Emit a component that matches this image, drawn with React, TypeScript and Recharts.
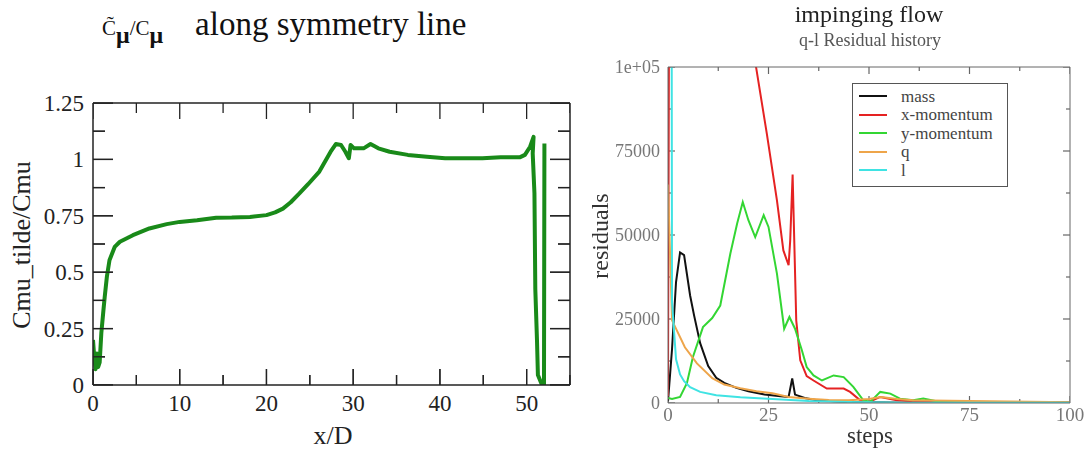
import React from 'react';
import { LineChart, Line, XAxis, YAxis, Legend } from 'recharts';

// ---- Cmu_tilde/Cmu along the symmetry line ----
const xOverD = [
  0, 0.15, 0.3, 0.45, 0.6, 0.77, 0.96, 1.2, 1.35, 1.6,
  1.9, 2.5, 3.1, 4.6, 6.5, 8.5, 10, 12, 14.2, 16,
  18.1, 20, 21, 21.9, 22.8, 23.8, 24.8, 26.1, 27.4, 28.0,
  28.6, 29.1, 29.5, 29.7, 30.1, 31.2, 32.0, 32.9, 34.2, 36.3,
  38.5, 40.6, 44.9, 47.0, 49.2, 49.8, 50.4, 50.8, 50.7, 50.9,
  51.0, 51.2, 51.3, 51.7, 52.0, 52.05,
];
const cmuRatio = [
  0.2, 0.12, 0.07, 0.14, 0.08, 0.1, 0.23, 0.33, 0.39, 0.48,
  0.553, 0.612, 0.635, 0.664, 0.694, 0.713, 0.723, 0.73, 0.741, 0.742,
  0.745, 0.753, 0.765, 0.782, 0.81, 0.849, 0.89, 0.946, 1.034, 1.068,
  1.064, 1.034, 1.005, 1.064, 1.049, 1.049, 1.068, 1.049, 1.034, 1.02,
  1.012, 1.005, 1.005, 1.009, 1.009, 1.02, 1.056, 1.1, 1.027, 0.85,
  0.425, 0.19, 0.044, 0.007, 0, 1.07,
];
const cmuXTicks = [0, 5, 10, 15, 20, 25, 30, 35, 40, 45, 50, 55];
const cmuYTicks = [0, 0.125, 0.25, 0.375, 0.5, 0.625, 0.75, 0.875, 1, 1.125, 1.25];

// ---- q-l residual history ----
const massSteps = [0, 1, 2, 3, 4, 5.5, 6.5, 8, 10, 12, 14, 17, 20, 24, 28, 30, 30.9, 31.6, 34, 37, 45, 60, 100];
const massRes = [500, 16000, 36000, 44800, 44000, 32000, 26000, 17800, 11000, 7500, 6000, 4500, 3500, 2500, 2000, 1800, 7300, 2500, 1500, 800, 300, 100, 50];

const xMomSteps = [0, 1, 10, 20, 21.9, 24.6, 27.1, 28.7, 30, 30.4, 31, 31.2, 31.9, 32.9, 34.5, 36.2, 39.5, 43.7, 45.3, 47.8, 50, 52.8, 56.9, 60, 70, 80, 90, 100];
const xMomRes = [2000, 450000, 300000, 130000, 100000, 80000, 60300, 45400, 41000, 48400, 68000, 58300, 24600, 12700, 8000, 6700, 4300, 4300, 3300, 800, 300, 1800, 800, 500, 400, 300, 250, 200];

const yMomSteps = [0, 1, 3, 4.7, 6.2, 8.7, 11, 13, 15.5, 17.2, 18.6, 20, 21.7, 23.8, 25, 27.1, 28.9, 30.2, 31.6, 33.3, 34.5, 36.2, 38.3, 41.2, 43.7, 46.1, 48.6, 50.3, 52.8, 55.3, 57.7, 61, 63.5, 67.7, 80, 100];
const yMomRes = [1500, 1200, 1800, 5900, 13700, 22600, 25300, 29000, 44400, 53400, 59800, 54400, 49400, 55900, 52400, 38500, 22100, 25600, 22100, 15700, 10700, 8200, 6700, 8200, 7700, 4800, 800, 300, 3300, 2800, 1300, 800, 1300, 300, 150, 100];

const qSteps = [0, 1, 4.2, 7.2, 11, 14, 18, 22, 26, 30, 35, 40, 45, 50, 53, 57, 61, 70, 80, 90, 100];
const qRes = [65000, 24600, 16600, 11800, 7400, 5500, 4400, 3500, 2900, 1800, 1300, 900, 800, 1200, 1800, 1200, 800, 700, 500, 350, 250];

const lSteps = [0, 1, 2, 3, 4, 5.5, 8, 12, 18, 26, 35, 45, 60, 100];
const lRes = [1000000, 30000, 13000, 8500, 6500, 4700, 3300, 2300, 1700, 1200, 600, 300, 100, 50];

const resXTicks = [0, 12.5, 25, 37.5, 50, 62.5, 75, 87.5, 100];
const resYTicks = [0, 12500, 25000, 37500, 50000, 62500, 75000, 87500, 100000];

const residualSeries = [
  { name: 'mass', color: '#111111', steps: massSteps, values: massRes },
  { name: 'x-momentum', color: '#e52222', steps: xMomSteps, values: xMomRes },
  { name: 'y-momentum', color: '#33d633', steps: yMomSteps, values: yMomRes },
  { name: 'q', color: '#eea54a', steps: qSteps, values: qRes },
  { name: 'l', color: '#3fe3e3', steps: lSteps, values: lRes },
];
const seriesOrder = residualSeries.map((s) => s.name);

const SERIF = '"Liberation Serif", "Times New Roman", serif';

type Pt = { x: number; y: number };
type Side = 'left' | 'bottom' | 'top' | 'right';

// Inward tick marks on all four sides (xmgrace style), as two-point segments.
// Lengths are given in pixels and converted to data units with the plot's px-per-unit.
function frameTicks(
  xTicks: number[], yTicks: number[],
  xDom: [number, number], yDom: [number, number],
  pxPerX: number, pxPerY: number,
  xMajor: (v: number) => boolean, yMajor: (v: number) => boolean,
  xLen: [number, number], yLen: [number, number],
): Pt[][] {
  const segs: Pt[][] = [];
  yTicks.forEach((v) => {
    const dx = (yMajor(v) ? yLen[0] : yLen[1]) / pxPerX;
    segs.push([{ x: xDom[0], y: v }, { x: xDom[0] + dx, y: v }]);
    segs.push([{ x: xDom[1], y: v }, { x: xDom[1] - dx, y: v }]);
  });
  xTicks.forEach((v) => {
    const dy = (xMajor(v) ? xLen[0] : xLen[1]) / pxPerY;
    segs.push([{ x: v, y: yDom[0] }, { x: v, y: yDom[0] + dy }]);
    segs.push([{ x: v, y: yDom[1] }, { x: v, y: yDom[1] - dy }]);
  });
  return segs;
}

// Tick renderer. With tickSize = tickMargin = -L the built-in tick line points inward and
// the (x, y) handed to us sits 2L inside the axis, so `back` moves back onto the axis line.
// Majors get an extra stretch beyond the built-in line, plus their label.
const axisTick = (
  side: Side, isMajor: (v: number) => boolean, back: number, extra: number, stroke: string,
  fmt?: (v: number) => string, fs = 16, fill = '#222', gap = 6,
) => (props: any) => {
  const x = Number(props.x);
  const y = Number(props.y);
  const v = Number(props.payload.value);
  const major = isMajor(v);
  const L = back / 2;
  let d = '';
  let text: React.ReactNode = null;
  if (side === 'left') {
    const ax = x - back;
    d = `M${ax + L},${y}H${ax + L + extra}`;
    if (major && fmt)
      text = <text x={ax - gap} y={y} dy="0.35em" textAnchor="end" fontSize={fs} fill={fill} fontFamily={SERIF}>{fmt(v)}</text>;
  } else if (side === 'right') {
    const ax = x + back;
    d = `M${ax - L},${y}H${ax - L - extra}`;
  } else if (side === 'bottom') {
    const ay = y + back;
    d = `M${x},${ay - L}V${ay - L - extra}`;
    if (major && fmt)
      text = <text x={x} y={ay + gap} dy="0.72em" textAnchor="middle" fontSize={fs} fill={fill} fontFamily={SERIF}>{fmt(v)}</text>;
  } else {
    const ay = y - back;
    d = `M${x},${ay + L}V${ay + L + extra}`;
  }
  return (
    <g>
      {major && extra > 0 ? <path d={d} stroke={stroke} strokeWidth={1.3} fill="none" /> : null}
      {text}
    </g>
  );
};

// label-only tick; tickSize/tickMargin are 0 so x,y sit on the axis line
const labelTick = (side: 'left' | 'bottom', isMajor: (v: number) => boolean, fmt: (v: number) => string, fs: number, fill: string, gap: number) =>
  (props: any) => {
    const x = Number(props.x);
    const y = Number(props.y);
    const v = Number(props.payload.value);
    if (!isMajor(v)) return <g />;
    return side === 'left'
      ? <text x={x - gap} y={y} dy="0.35em" textAnchor="end" fontSize={fs} fill={fill} fontFamily={SERIF}>{fmt(v)}</text>
      : <text x={x} y={y + gap} dy="0.72em" textAnchor="middle" fontSize={fs} fill={fill} fontFamily={SERIF}>{fmt(v)}</text>;
  };
const noTick = () => <g />;

const CmuChart = () => {
  const data = xOverD.map((x, i) => ({ x, y: cmuRatio[i] }));
  const xMajor = (v: number) => v % 10 === 0;
  const yMajor = (v: number) => Math.abs((v / 0.25) - Math.round(v / 0.25)) < 1e-6;
  const axisStroke = '#222';
  const al = { stroke: axisStroke, strokeWidth: 1.5 };
  const tl = { stroke: axisStroke, strokeWidth: 1.3 };
  // plot box is 477 x 282 px
  const segs = frameTicks(cmuXTicks, cmuYTicks, [0, 55], [0, 1.25], 477 / 55, 282 / 1.25, xMajor, yMajor, [16, 10], [20, 12]);
  return (
    <div style={{ position: 'absolute', left: 0, top: 0, width: 580, height: 451 }}>
      <LineChart width={580} height={451} margin={{ top: 102, right: 9, bottom: 65, left: 92 }}>
        <XAxis dataKey="x" type="number" domain={[0, 55]} ticks={cmuXTicks} interval={0} allowDataOverflow
          height={1} tickSize={-10} tickMargin={-10} tickLine={tl} axisLine={al}
          tick={axisTick('bottom', xMajor, 20, 6, axisStroke, (v) => String(v), 23, '#222', 9)} />
        <XAxis xAxisId="top" orientation="top" type="number" domain={[0, 55]} ticks={cmuXTicks} interval={0} allowDataOverflow
          height={1} tickSize={-10} tickMargin={-10} tickLine={tl} axisLine={al}
          tick={axisTick('top', xMajor, 20, 6, axisStroke)} />
        <YAxis type="number" domain={[0, 1.25]} ticks={cmuYTicks} interval={0} allowDataOverflow
          width={1} tickSize={-12} tickMargin={-12} tickLine={tl} axisLine={al}
          tick={axisTick('left', yMajor, 24, 8, axisStroke, (v) => String(v), 23, '#222', 9)} />
        <YAxis yAxisId="right" orientation="right" type="number" domain={[0, 1.25]} ticks={cmuYTicks} interval={0} allowDataOverflow
          width={1} tickSize={-12} tickMargin={-12} tickLine={tl} axisLine={al}
          tick={axisTick('right', yMajor, 24, 8, axisStroke)} />
        {segs.map((s, i) => (
          <Line key={`t${i}`} data={s} dataKey="y" stroke={axisStroke} strokeWidth={1.3} dot={false} activeDot={false}
            legendType="none" isAnimationActive={false} />
        ))}
        <Line data={data} type="linear" dataKey="y" stroke="#198a19" strokeWidth={4} dot={false} isAnimationActive={false} strokeLinejoin="round" />
      </LineChart>
      <div style={{ position: 'absolute', left: 102, top: 8, fontFamily: SERIF, fontSize: 33, lineHeight: '33px', color: '#111', whiteSpace: 'nowrap' }}>
        <span style={{ fontSize: 21 }}>C&#771;</span>
        <sub style={{ fontSize: 24, fontWeight: 'bold' }}>&mu;</sub>
        <span style={{ fontSize: 21 }}>/C</span>
        <sub style={{ fontSize: 24, fontWeight: 'bold' }}>&mu;</sub>
        <span style={{ marginLeft: 32 }}>along symmetry line</span>
      </div>
      <div style={{ position: 'absolute', left: 22, top: 245, transform: 'translate(-50%, -50%) rotate(-90deg)', fontFamily: SERIF, fontSize: 26, color: '#222', whiteSpace: 'nowrap' }}>
        Cmu_tilde/Cmu
      </div>
      <div style={{ position: 'absolute', left: 333, top: 436, transform: 'translate(-50%, -50%)', fontFamily: SERIF, fontSize: 26, color: '#222', whiteSpace: 'nowrap' }}>
        x/D
      </div>
    </div>
  );
};

const ResidualLegend = (props: any) => {
  const items = [...(props.payload || [])]
    .filter((it: any) => seriesOrder.includes(it.value))
    .sort((a: any, b: any) => seriesOrder.indexOf(a.value) - seriesOrder.indexOf(b.value));
  return (
    <div style={{ width: 154, height: 99, border: '1px solid #555', background: '#fff', fontFamily: SERIF, paddingTop: 3, boxSizing: 'content-box' }}>
      {items.map((it: any) => (
        <div key={it.value} style={{ display: 'flex', alignItems: 'center', height: 18.5 }}>
          <span style={{ display: 'inline-block', width: 28, height: 0, borderTop: `2px solid ${it.color}`, marginLeft: 6, marginRight: 14 }} />
          <span style={{ fontSize: 17, color: '#444', lineHeight: '17px' }}>{it.value}</span>
        </div>
      ))}
    </div>
  );
};

const ResidualChart = () => {
  const xMajor = (v: number) => v % 25 === 0;
  const yMajor = (v: number) => v % 25000 === 0;
  const axisStroke = '#666';
  const yLabel = (v: number) => (v === 100000 ? '1e+05' : String(v));
  // plot box is 402 x 336 px
  const segs = frameTicks(resXTicks, resYTicks, [0, 100], [0, 100000], 402 / 100, 336 / 100000, xMajor, yMajor, [7, 4], [7, 4]);
  return (
    <div style={{ position: 'absolute', left: 580, top: 0, width: 509, height: 451, filter: 'blur(0.4px)' }}>
      <LineChart width={509} height={451} margin={{ top: 66, right: 18, bottom: 47, left: 87 }}>
        <XAxis dataKey="step" type="number" domain={[0, 100]} ticks={resXTicks} interval={0} allowDataOverflow
          height={1} tickSize={0} tickMargin={0} tickLine={false} axisLine={{ stroke: axisStroke }}
          tick={labelTick('bottom', xMajor, (v) => String(v), 19, '#777', 4)} />
        <XAxis xAxisId="top" orientation="top" type="number" domain={[0, 100]} ticks={resXTicks} interval={0} allowDataOverflow
          height={1} tickSize={0} tickMargin={0} tickLine={false} axisLine={{ stroke: axisStroke }} tick={noTick} />
        <YAxis type="number" domain={[0, 100000]} ticks={resYTicks} interval={0} allowDataOverflow
          width={1} tickSize={0} tickMargin={0} tickLine={false} axisLine={{ stroke: axisStroke }}
          tick={labelTick('left', yMajor, yLabel, 18, '#777', 8)} />
        <YAxis yAxisId="right" orientation="right" type="number" domain={[0, 100000]} ticks={resYTicks} interval={0} allowDataOverflow
          width={1} tickSize={0} tickMargin={0} tickLine={false} axisLine={{ stroke: axisStroke }} tick={noTick} />
        {segs.map((s, i) => (
          <Line key={`t${i}`} data={s.map((p) => ({ step: p.x, value: p.y }))} dataKey="value" stroke={axisStroke}
            strokeWidth={1.2} dot={false} activeDot={false} legendType="none" isAnimationActive={false} />
        ))}
        {residualSeries.map((s) => (
          <Line key={s.name} name={s.name} data={s.steps.map((step, i) => ({ step, value: s.values[i] }))}
            dataKey="value" type="linear" stroke={s.color} strokeWidth={2} dot={false} isAnimationActive={false} />
        ))}
        <Legend layout="vertical" align="center" verticalAlign="middle" content={ResidualLegend}
          wrapperStyle={{ left: 272, top: 83, width: 156, height: 101 }} />
      </LineChart>
      <div style={{ position: 'absolute', left: 289, top: 14, transform: 'translate(-50%, -50%)', fontFamily: SERIF, fontSize: 24, color: '#222', whiteSpace: 'nowrap' }}>
        impinging flow
      </div>
      <div style={{ position: 'absolute', left: 290, top: 40, transform: 'translate(-50%, -50%)', fontFamily: SERIF, fontSize: 18, color: '#555', whiteSpace: 'nowrap' }}>
        q-l Residual history
      </div>
      <div style={{ position: 'absolute', left: 20, top: 236, transform: 'translate(-50%, -50%) rotate(-90deg)', fontFamily: SERIF, fontSize: 24, color: '#333', whiteSpace: 'nowrap' }}>
        residuals
      </div>
      <div style={{ position: 'absolute', left: 290, top: 436, transform: 'translate(-50%, -50%)', fontFamily: SERIF, fontSize: 23, color: '#333', whiteSpace: 'nowrap' }}>
        steps
      </div>
    </div>
  );
};

export default function App() {
  return (
    <div style={{ position: 'absolute', left: 0, top: 0, width: 1089, height: 451, background: '#fff', overflow: 'hidden' }}>
      <CmuChart />
      <ResidualChart />
    </div>
  );
}
